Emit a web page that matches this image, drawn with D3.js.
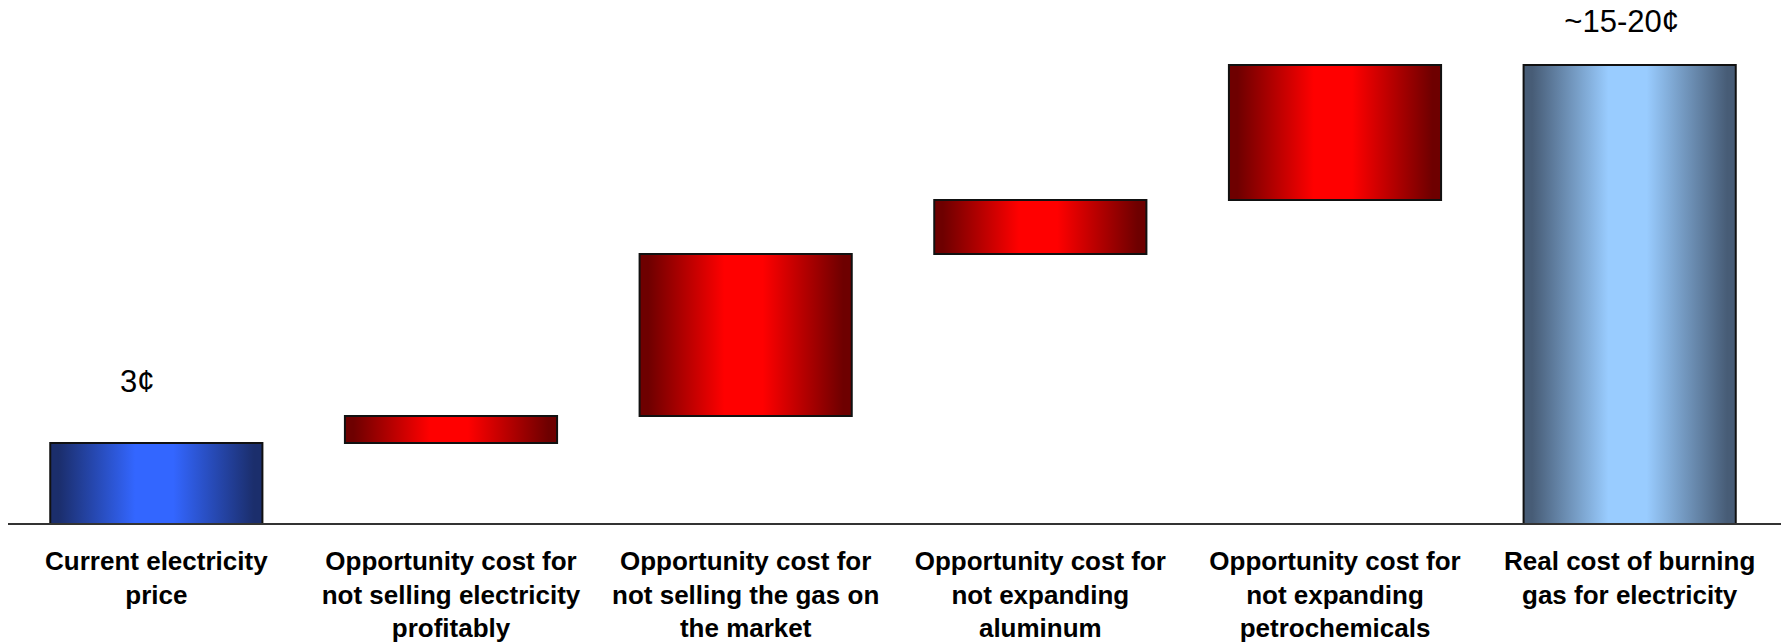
<!DOCTYPE html>
<html>
<head>
<meta charset="utf-8">
<script src="https://cdn.jsdelivr.net/npm/d3@7"></script>
<style>
  html, body { margin: 0; padding: 0; background: #ffffff; }
  svg { display: block; }
</style>
</head>
<body>
<svg id="chart" width="1781" height="644"></svg>
<script>
// ---- data ----
const categories = [
  ["Current electricity", "price"],
  ["Opportunity cost for", "not selling electricity", "profitably"],
  ["Opportunity cost for", "not selling the gas on", "the market"],
  ["Opportunity cost for", "not expanding", "aluminum"],
  ["Opportunity cost for", "not expanding", "petrochemicals"],
  ["Real cost of burning", "gas for electricity"]
];
const values = [3, 1, 6, 2, 5, 17];               // cents per kWh (start, increments, total)
const kinds = ["start", "delta", "delta", "delta", "delta", "total"];
const valueLabels = ["3¢", "", "", "", "", "~15-20¢"];

// ---- layout ----
const W = 1781, H = 644;
const baseY = 524, topY = 65;
const svg = d3.select("#chart");

// waterfall bounds
let run = 0;
const bars = values.map((v, i) => {
  let lo, hi;
  if (kinds[i] === "start") { lo = 0; hi = v; run = v; }
  else if (kinds[i] === "delta") { lo = run; hi = run + v; run = hi; }
  else { lo = 0; hi = v; }
  return { i, kind: kinds[i], lo, hi, label: valueLabels[i], cat: categories[i] };
});

const x = d3.scaleBand()
  .domain(d3.range(categories.length))
  .range([9, 1777])
  .paddingInner(0.28)
  .paddingOuter(0.14);

const y = d3.scaleLinear()
  .domain([0, d3.max(values)])
  .range([baseY, topY]);

// gradients
const defs = svg.append("defs");
function grad(id, dark, bright) {
  const g = defs.append("linearGradient").attr("id", id)
    .attr("x1", "0%").attr("x2", "100%").attr("y1", "0%").attr("y2", "0%");
  [[0, dark], [0.04, dark], [0.4, bright], [0.58, bright], [0.96, dark], [1, dark]].forEach(([o, c]) =>
    g.append("stop").attr("offset", o).attr("stop-color", c));
}
grad("gStart", "#1b2e6c", "#3366ff");
grad("gDelta", "#6e0000", "#ff0000");
grad("gTotal", "#475c76", "#99ccff");
const fillFor = { start: "url(#gStart)", delta: "url(#gDelta)", total: "url(#gTotal)" };

// bars
svg.selectAll("rect.bar").data(bars).enter().append("rect")
  .attr("class", "bar")
  .attr("x", d => x(d.i))
  .attr("width", x.bandwidth())
  .attr("y", d => y(d.hi))
  .attr("height", d => y(d.lo) - y(d.hi))
  .attr("fill", d => fillFor[d.kind])
  .attr("stroke", "#111")
  .attr("stroke-width", 2);

// axis baseline
svg.append("line")
  .attr("x1", 8).attr("x2", W)
  .attr("y1", y(0)).attr("y2", y(0))
  .attr("stroke", "#333").attr("stroke-width", 2);

// value labels
const labelDx = { start: -19, total: -8 };
const labelGap = { start: 51, total: 33 };
svg.selectAll("text.val").data(bars.filter(d => d.label)).enter().append("text")
  .attr("class", "val")
  .attr("x", d => x(d.i) + x.bandwidth() / 2 + labelDx[d.kind])
  .attr("y", d => y(d.hi) - labelGap[d.kind])
  .attr("text-anchor", "middle")
  .attr("font-family", "'Liberation Sans', Arial, sans-serif")
  .attr("font-size", 31)
  .attr("fill", "#000")
  .text(d => d.label);

// category labels
const catG = svg.selectAll("text.cat").data(bars).enter().append("text")
  .attr("class", "cat")
  .attr("text-anchor", "middle")
  .attr("font-family", "'Liberation Sans', Arial, sans-serif")
  .attr("font-weight", "bold")
  .attr("font-size", 26)
  .attr("fill", "#000");
catG.selectAll("tspan").data(d => d.cat.map((t, k) => ({ t, k, cx: x(d.i) + x.bandwidth() / 2 })))
  .enter().append("tspan")
  .attr("x", s => s.cx)
  .attr("y", s => 570 + s.k * 33.7)
  .text(s => s.t);
</script>
</body>
</html>
